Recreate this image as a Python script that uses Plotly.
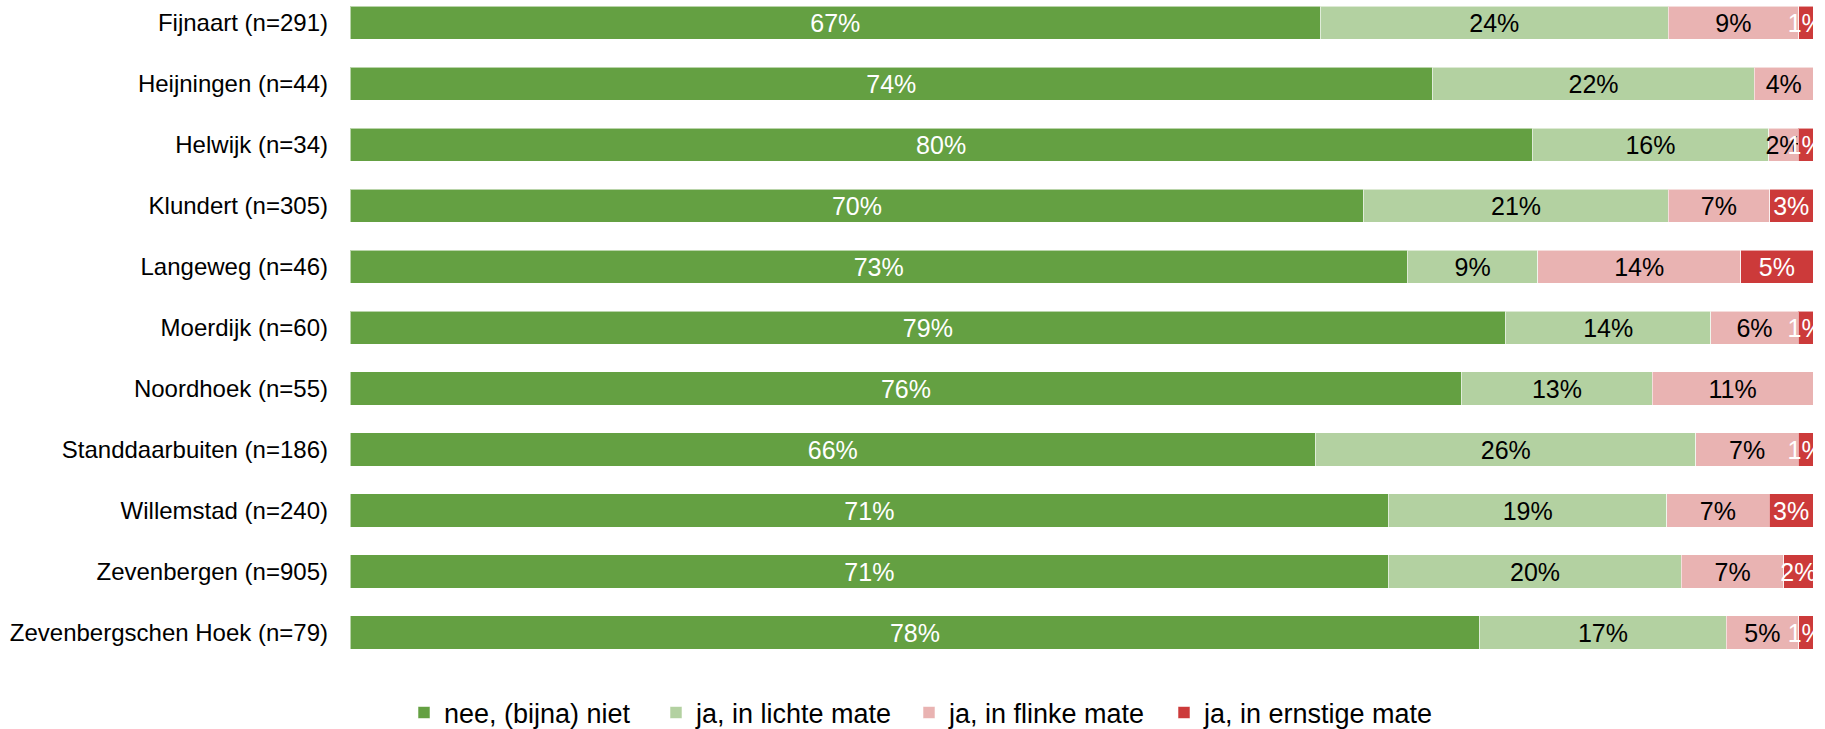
import plotly.graph_objects as go

# Kernen met aantal respondenten
categories = [
    "Fijnaart (n=291)",
    "Heijningen (n=44)",
    "Helwijk (n=34)",
    "Klundert (n=305)",
    "Langeweg (n=46)",
    "Moerdijk (n=60)",
    "Noordhoek (n=55)",
    "Standdaarbuiten (n=186)",
    "Willemstad (n=240)",
    "Zevenbergen (n=905)",
    "Zevenbergschen Hoek (n=79)",
]

# Percentages per antwoordcategorie
nee_niet = [67, 74, 80, 70, 73, 79, 76, 66, 71, 71, 78]
lichte_mate = [24, 22, 16, 21, 9, 14, 13, 26, 19, 20, 17]
flinke_mate = [9, 4, 2, 7, 14, 6, 11, 7, 7, 7, 5]
ernstige_mate = [1, 0, 1, 3, 5, 1, 0, 1, 3, 2, 1]

series = [
    ("nee, (bijna) niet", nee_niet, "#64A042", "white"),
    ("ja, in lichte mate", lichte_mate, "#B3D1A1", "black"),
    ("ja, in flinke mate", flinke_mate, "#E9B3B2", "black"),
    ("ja, in ernstige mate", ernstige_mate, "#CC3A3A", "white"),
]

FONT = "Liberation Sans, Arial, sans-serif"
W, H = 1825, 729

# one legend box per series, laid out in a row under the bars
legend_ids = ["legend", "legend2", "legend3", "legend4"]
legend_left_px = [404, 656, 909, 1164]

fig = go.Figure()
for (name, values, color, txtcolor), lid in zip(series, legend_ids):
    labels = [f"{v}%" if v > 0 else "" for v in values]
    fig.add_trace(go.Bar(
        name=name,
        y=categories,
        x=values,
        orientation="h",
        marker=dict(color=color, line=dict(color="rgba(255,255,255,0.55)", width=1)),
        text=labels,
        textposition="inside",
        insidetextanchor="middle",
        textangle=0,
        insidetextfont=dict(family=FONT, size=25, color=txtcolor),
        cliponaxis=True,
        hoverinfo="skip",
        legend=lid,
    ))

legend_common = dict(
    orientation="h",
    xref="container",
    yref="container",
    xanchor="left",
    y=0.022,
    yanchor="middle",
    font=dict(family=FONT, size=27, color="black"),
    bgcolor="rgba(0,0,0,0)",
)
legend_layout = {
    lid: dict(legend_common, x=px / W)
    for lid, px in zip(legend_ids, legend_left_px)
}

fig.update_layout(
    barmode="stack",
    barnorm="percent",
    bargap=0.454,
    width=W,
    height=H,
    margin=dict(l=350, r=12, t=0, b=66),
    paper_bgcolor="white",
    plot_bgcolor="white",
    font=dict(family=FONT, size=24, color="black"),
    uniformtext=dict(minsize=25, mode="show"),
    showlegend=True,
    xaxis=dict(
        range=[0, 100],
        showgrid=False,
        zeroline=False,
        showticklabels=False,
        showline=False,
    ),
    yaxis=dict(
        categoryorder="array",
        categoryarray=categories,
        range=[10.5, -0.374],
        showgrid=False,
        zeroline=False,
        showline=False,
        ticks="",
        ticklabelstandoff=21,
        tickfont=dict(family=FONT, size=24, color="black"),
    ),
    **legend_layout,
)

fig.write_html("out.html")
